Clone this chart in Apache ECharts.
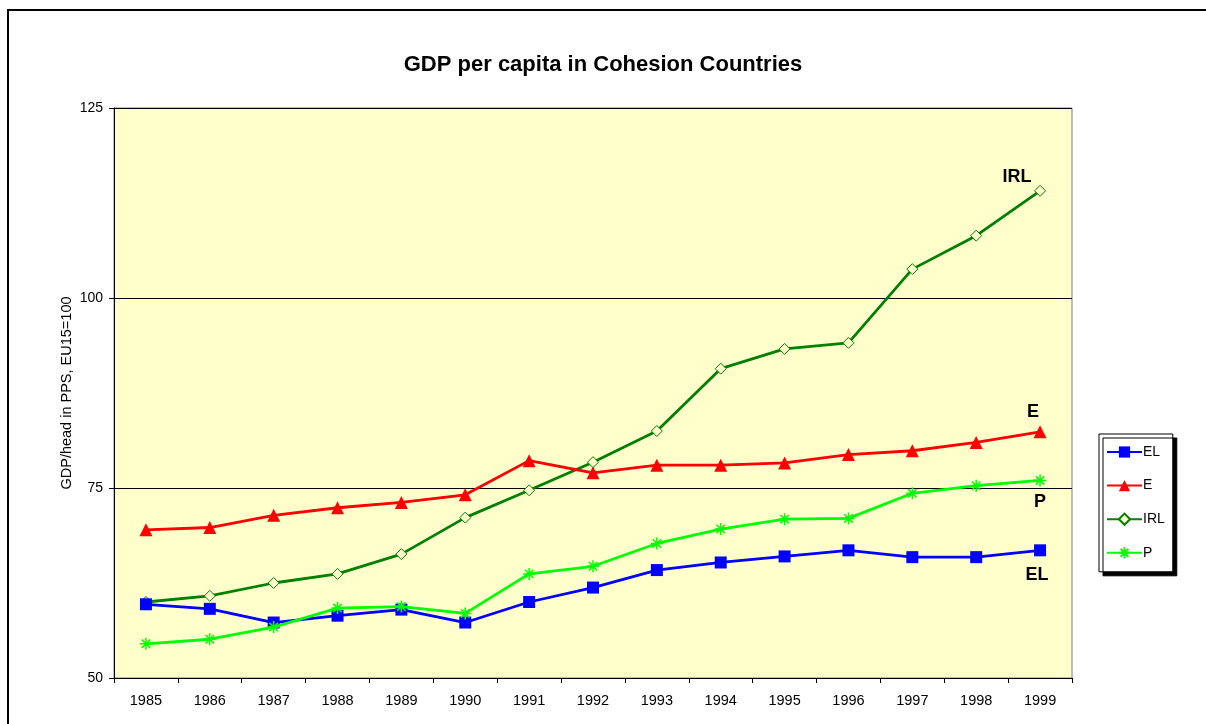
<!DOCTYPE html>
<html>
<head>
<meta charset="utf-8">
<script src="https://cdn.jsdelivr.net/npm/echarts@6/dist/echarts.min.js"></script>
<style>
  html, body { margin: 0; padding: 0; background: #fff; }
  #chart { width: 1206px; height: 724px; }
</style>
</head>
<body>
<div id="chart"></div>
<script>
var years = ['1985','1986','1987','1988','1989','1990','1991','1992','1993','1994','1995','1996','1997','1998','1999'];
var elData  = [59.7, 59.1, 57.3, 58.2, 59.0, 57.3, 60.0, 61.9, 64.2, 65.2, 66.0, 66.8, 65.9, 65.9, 66.8];
var eData   = [69.5, 69.8, 71.4, 72.4, 73.1, 74.1, 78.6, 77.0, 78.0, 78.0, 78.3, 79.4, 79.9, 81.0, 82.4];
var irlData = [60.0, 60.8, 62.5, 63.7, 66.3, 71.1, 74.7, 78.4, 82.5, 90.7, 93.3, 94.1, 103.8, 108.2, 114.1];
var pData   = [54.5, 55.1, 56.7, 59.2, 59.4, 58.5, 63.7, 64.7, 67.7, 69.6, 70.9, 71.0, 74.3, 75.3, 76.0];
var yTicks = [50, 75, 100, 125];

var chart = echarts.init(document.getElementById('chart'));

// last point gets the bold country tag
function tagLast(arr, name, offset) {
    return arr.map(function (v, i) {
        if (i !== arr.length - 1) return v;
        return {
            value: v,
            label: {
                show: true, position: 'inside', offset: offset,
                formatter: name, color: '#000', fontSize: 18, fontWeight: 'bold',
                fontFamily: 'Arial, Liberation Sans, sans-serif'
            }
        };
    });
}

var asterisk = 'path://M0,5L10,5M5,0L5,10M1.5,1.5L8.5,8.5M8.5,1.5L1.5,8.5';

var option = {
    animation: false,
    backgroundColor: '#fff',
    textStyle: { fontFamily: 'Arial, Liberation Sans, sans-serif' },
    title: {
        text: 'GDP per capita in Cohesion Countries',
        left: 'center', top: 49,
        textStyle: { fontSize: 22, fontWeight: 'bold', color: '#000' }
    },
    graphic: [{
        type: 'rect',
        shape: { x: 8, y: 10, width: 1220, height: 740 },
        style: { fill: 'none', stroke: '#000', lineWidth: 2 },
        silent: true
    }],
    legend: {
        orient: 'vertical',
        left: 1099, top: 434,
        itemWidth: 35, itemHeight: 14, itemGap: 19.6,
        padding: [11, 8, 12, 7],
        backgroundColor: '#fff',
        borderColor: '#000', borderWidth: 1,
        shadowColor: '#000', shadowOffsetX: 4, shadowOffsetY: 4, shadowBlur: 0,
        textStyle: { fontSize: 14, color: '#000', padding: [0, 0, 0, -4] },
        data: ['EL', 'E', 'IRL', 'P']
    },
    grid: {
        left: 114, right: 134, top: 108, bottom: 46,
        show: true, backgroundColor: '#FFFFCC', borderColor: '#808080', borderWidth: 1
    },
    xAxis: {
        type: 'category',
        data: years,
        boundaryGap: true,
        axisLine: { lineStyle: { color: '#000', width: 1 } },
        axisTick: { show: true, length: 5, lineStyle: { color: '#000' } },
        axisLabel: { color: '#000', fontSize: 14.5, margin: 15 },
        splitLine: { show: false }
    },
    yAxis: {
        type: 'value',
        min: yTicks[0], max: yTicks[yTicks.length - 1], interval: 25,
        name: 'GDP/head in PPS, EU15=100',
        nameLocation: 'middle', nameGap: 40, nameMoveOverlap: false,
        nameTextStyle: { fontSize: 14.5, color: '#000' },
        axisLine: { show: true, lineStyle: { color: '#000', width: 1 } },
        axisTick: { show: true, length: 5, lineStyle: { color: '#000' } },
        axisLabel: { color: '#000', fontSize: 14, margin: 11 },
        splitLine: { show: true, lineStyle: { color: '#000', width: 1 } }
    },
    series: [
        {
            name: 'EL', type: 'line',
            data: tagLast(elData, 'EL', [-3, 25]),
            symbol: 'rect', symbolSize: 12,
            itemStyle: { color: '#0000FF' },
            lineStyle: { color: '#0000FF', width: 2.8 },
            z: 4
        },
        {
            name: 'E', type: 'line',
            data: tagLast(eData, 'E', [-7, -20]),
            symbol: 'triangle', symbolSize: 13,
            itemStyle: { color: '#FF0000' },
            lineStyle: { color: '#FF0000', width: 2.8 },
            z: 3
        },
        {
            name: 'IRL', type: 'line',
            data: tagLast(irlData, 'IRL', [-23, -14]),
            symbol: 'diamond', symbolSize: 11,
            itemStyle: { color: '#FFFFCC', borderColor: '#008000', borderWidth: 1 },
            lineStyle: { color: '#008000', width: 2.8 },
            z: 2
        },
        {
            name: 'P', type: 'line',
            data: tagLast(pData, 'P', [0, 22]),
            symbol: asterisk, symbolSize: 12,
            itemStyle: { color: '#00FF00', borderColor: '#00FF00', borderWidth: 1.5 },
            lineStyle: { color: '#00FF00', width: 2.8 },
            z: 5
        }
    ]
};

chart.setOption(option);
</script>
</body>
</html>
